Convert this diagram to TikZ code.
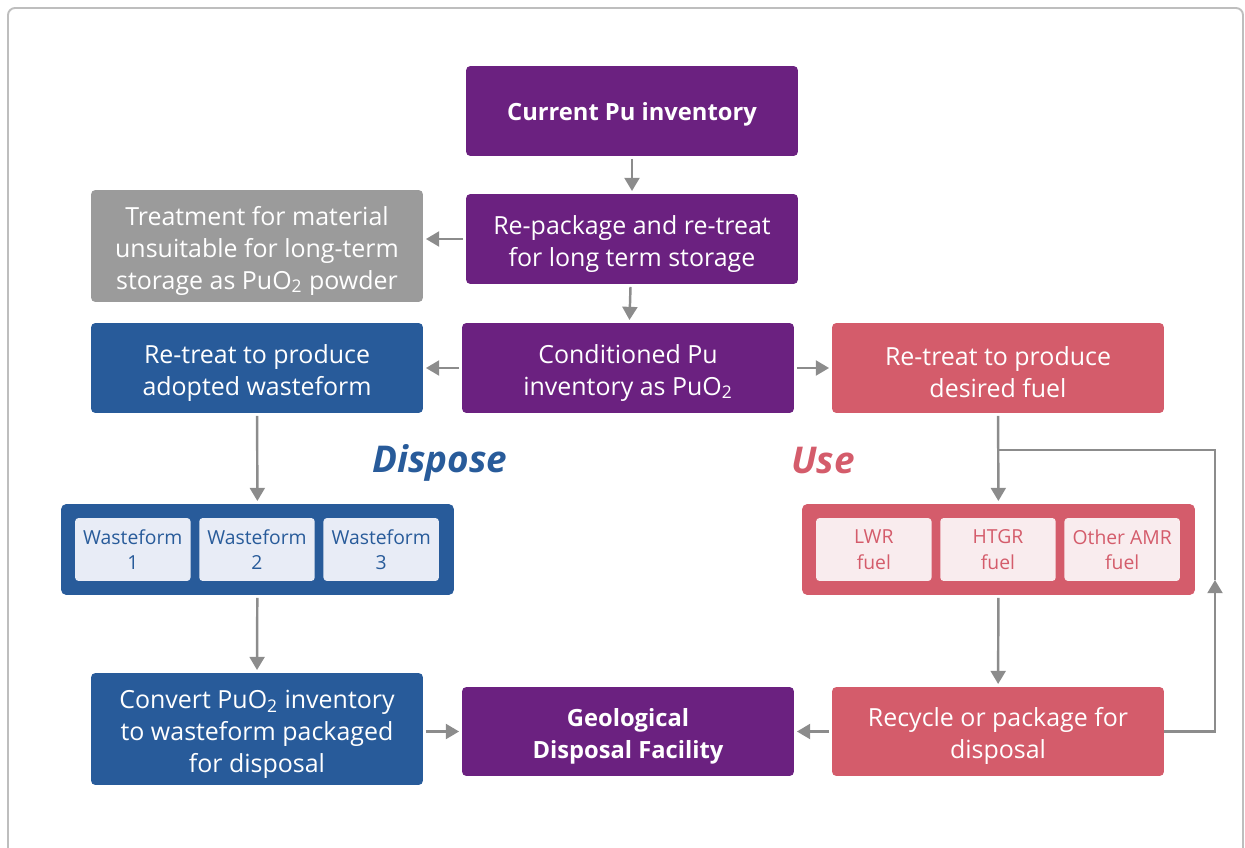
\documentclass[tikz,border=0pt]{standalone}
\usepackage{fontspec}
\setmainfont{Open Sans}
\usetikzlibrary{arrows.meta,positioning}

\definecolor{puPurple}{RGB}{107,33,128}
\definecolor{puBlue}{RGB}{40,91,154}
\definecolor{puRed}{RGB}{212,92,107}
\definecolor{puGray}{RGB}{155,155,155}
\definecolor{flowGray}{RGB}{140,140,140}
\definecolor{frameGray}{RGB}{190,190,190}
\definecolor{paleBlue}{RGB}{232,236,246}
\definecolor{palePink}{RGB}{249,236,238}

% taller first line so the text sits a little lower in its box
\newcommand{\tallline}{\rule{0pt}{16pt}}

\begin{document}
\begin{tikzpicture}[x=0.02cm, y=-0.02cm,
    box/.style={rounded corners=2.5pt, text=white, align=center, font=\fontsize{14.2}{18.2}\selectfont,
        minimum width=6.64cm, minimum height=1.8cm, inner sep=0pt},
    purplebox/.style={box, fill=puPurple},
    bluebox/.style={box, fill=puBlue},
    redbox/.style={box, fill=puRed},
    graybox/.style={box, fill=puGray},
    boldtext/.style={font=\fontsize{13.5}{18.2}\selectfont\bfseries},
    holder/.style={rounded corners=3pt, minimum width=7.86cm, minimum height=1.82cm, inner sep=0pt},
    subbox/.style={rounded corners=2pt, align=center, font=\fontsize{11}{14.5}\selectfont,
        minimum width=2.31cm, minimum height=1.26cm, inner sep=0pt},
    flow/.style={draw=flowGray, line width=1.4pt, -{Triangle[width=8.5pt,length=7.5pt]},
        shorten >=1.5pt, shorten <=1.5pt},
    plain/.style={draw=flowGray, line width=1.4pt},
    bigword/.style={font=\fontsize{21}{24}\selectfont\bfseries\itshape}]

    % page and frame
    \useasboundingbox (0,0) rectangle (1245,848);
    \clip (0,0) rectangle (1245,848);
    \draw[frameGray, line width=1.1pt, rounded corners=4pt] (8,900) -- (8,8) -- (1243,8) -- (1243,900);

    % centre column
    \node[purplebox, boldtext] (current) at (632,111) {\rule{0pt}{14.5pt}Current Pu inventory};
    \node[purplebox] (repack) at (632,239) {\tallline Re-package and re-treat\\for long term storage};
    \node[purplebox] (cond) at (628,368) {\tallline Conditioned Pu\\inventory as PuO\textsubscript{2}};
    \node[purplebox, minimum height=1.78cm, boldtext] (geo) at (628,731.5) {\tallline Geological\\Disposal Facility};

    % left column
    \node[graybox, minimum height=2.24cm] (treat) at (257,246) {\tallline Treatment for material\\unsuitable for long-term\\storage as PuO\textsubscript{2} powder};
    \node[bluebox] (retreatB) at (257,368) {\tallline Re-treat to produce\\adopted wasteform};
    \node[bluebox, minimum height=2.24cm] (convert) at (257,729) {\tallline Convert PuO\textsubscript{2} inventory\\to wasteform packaged\\for disposal};

    % right column
    \node[redbox] (retreatR) at (998,368) {\tallline Re-treat to produce\\desired fuel};
    \node[redbox, minimum height=1.78cm] (recycle) at (998,731.5) {\tallline Recycle or package for\\disposal};

    % wasteforms
    \node[holder, fill=puBlue] (wastes) at (257.5,549.5) {};
    \node[subbox, fill=paleBlue, text=puBlue] (waste2) at (257,549.5) {Wasteform\\2};
    \node[subbox, fill=paleBlue, text=puBlue, left=0.16cm of waste2] (waste1) {Wasteform\\1};
    \node[subbox, fill=paleBlue, text=puBlue, right=0.16cm of waste2] (waste3) {Wasteform\\3};

    % fuels
    \node[holder, fill=puRed] (fuels) at (998.5,549.5) {};
    \node[subbox, fill=palePink, text=puRed] (fuel2) at (998,549.5) {HTGR\\fuel};
    \node[subbox, fill=palePink, text=puRed, left=0.16cm of fuel2] (fuel1) {LWR\\fuel};
    \node[subbox, fill=palePink, text=puRed, right=0.16cm of fuel2] (fuel3) {Other AMR\\fuel};

    % route labels
    \node[bigword, text=puBlue] (dispose) at (440,463) {Dispose};
    \node[bigword, text=puRed] (use) at (823,461) {Use};

    % flows
    \draw[flow] (current) -- (repack);
    \draw[flow] (repack) -- (cond);
    \draw[flow] (repack.west) -- (treat.east |- repack.west);
    \draw[flow] (cond) -- (retreatB);
    \draw[flow] (cond) -- (retreatR);
    \draw[flow] (retreatB) -- (wastes);
    \draw[flow] (wastes) -- (convert.north);
    \draw[flow] (convert.east |- geo) -- (geo);
    \draw[flow] (recycle) -- (geo);
    \draw[flow] (retreatR) -- (fuels);
    \draw[flow] (fuels) -- (recycle);

    % recycle loop
    \coordinate (loopB) at (1215,731.5);
    \coordinate (loopA) at (1215,580);
    \coordinate (loopT) at (1215,450);
    \coordinate (loopJ) at (998,450);
    \draw[flow, shorten <=0pt, shorten >=0pt] (recycle.east) -- (loopB) -- (loopA);
    \draw[plain] (loopA) -- (loopT) -- (loopJ);
\end{tikzpicture}
\end{document}
